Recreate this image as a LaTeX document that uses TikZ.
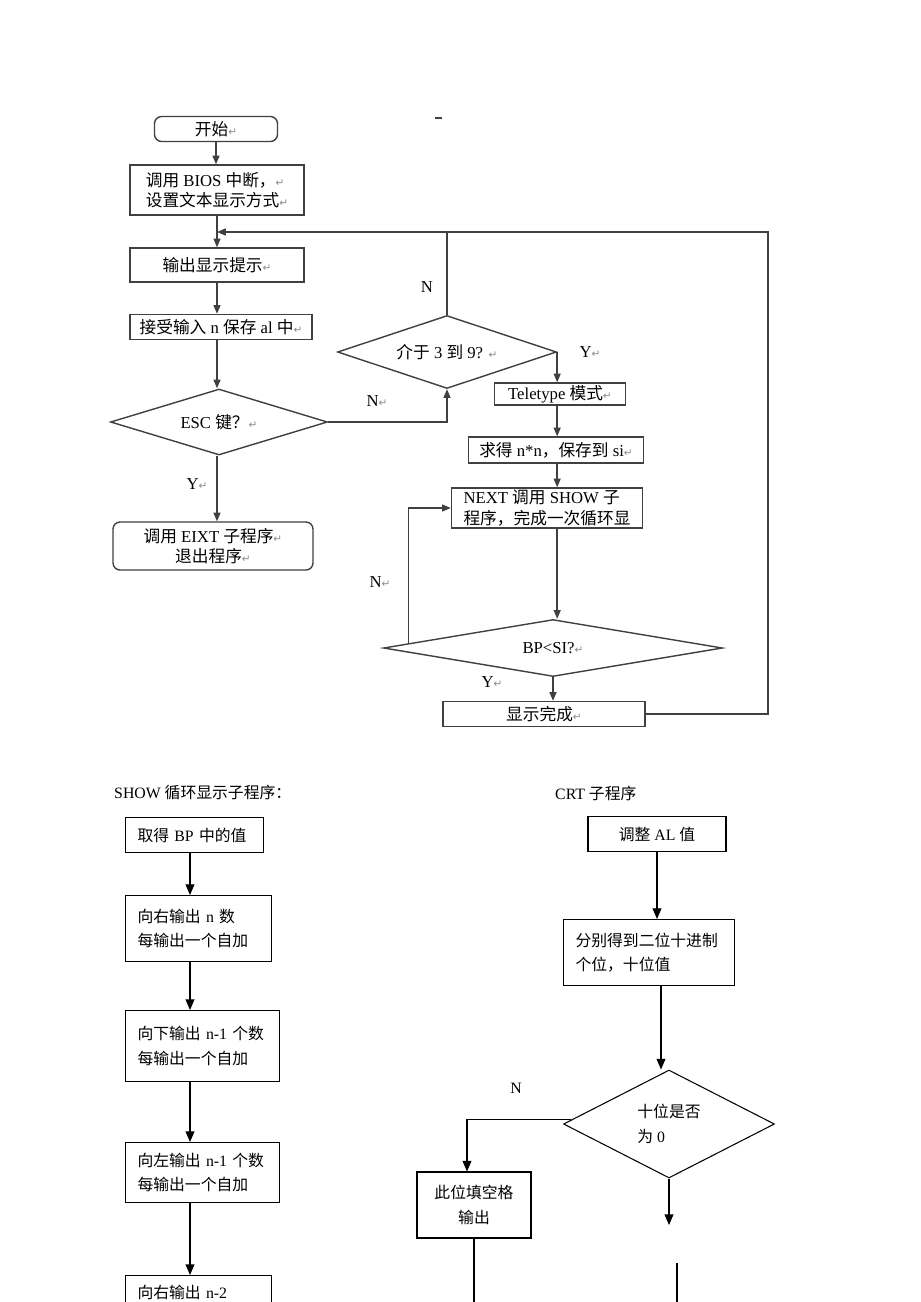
\documentclass[tikz,border=0pt]{standalone}
\usepackage{fontspec}
\setmainfont{Liberation Serif}
\newfontfamily\cjk{Noto Sans CJK SC}
\newfontfamily\symfont{DejaVu Sans}
\usetikzlibrary{shapes.geometric,arrows.meta,calc}

\newcommand{\toptext}{\fontsize{9.5}{11.5}\selectfont}
\newcommand{\lowtext}{\fontsize{9}{14}\selectfont}
\newcommand{\pmark}{{\symfont\color{black!45}\fontsize{6}{6}\selectfont ↵}}

\begin{document}
\begin{tikzpicture}[x=0.02cm, y=-0.02cm,
	flow/.style={draw=black!75, line width=0.8pt},
	arr/.style={flow, -{Triangle[length=5pt,width=4pt]}},
	box/.style={flow, rectangle, inner sep=1pt, align=center, font=\toptext},
	rbox/.style={box, rounded corners=4pt},
	test/.style={flow, diamond, aspect=4, inner sep=0pt, font=\toptext},
	lbl/.style={font=\toptext},
	sline/.style={draw=black, line width=0.6pt},
	sarr/.style={sline, -{Triangle[length=6pt,width=5pt]}},
	sbox/.style={sline, rectangle, inner xsep=0.24cm, align=left, font=\lowtext}]
	\useasboundingbox (0,0) rectangle (920,1302);
	\fill[white] (0,0) rectangle (920,1302);
	\clip (0,0) rectangle (920,1302);

	% Main program
	\node[rbox, minimum width=2.46cm, minimum height=0.5cm] (start) at (216,129) {{\cjk 开始}\pmark};
	\node[box, align=left, minimum width=3.48cm, minimum height=1cm] (bios) at (217,190) {{\cjk 调用} BIOS {\cjk 中断，}\pmark\\{\cjk 设置文本显示方式}\pmark};
	\node[box, minimum width=3.48cm, minimum height=0.68cm] (prompt) at (217,265) {{\cjk 输出显示提示}\pmark};
	\node[box, minimum width=3.64cm, minimum height=0.5cm] (input) at (221,327) {{\cjk 接受输入} n {\cjk 保存} al {\cjk 中}\pmark};
	\node[test, minimum width=4.34cm, minimum height=1.32cm] (esc) at (219,422) {ESC {\cjk 键？}\pmark};
	\node[rbox, minimum width=4cm, minimum height=0.96cm] (exit) at (213,546) {{\cjk 调用} EIXT {\cjk 子程序}\pmark\\{\cjk 退出程序}\pmark};
	\node[test, minimum width=4.38cm, minimum height=1.46cm] (range) at (447,352) {{\cjk 介于} 3 {\cjk 到} 9? \pmark};
	\node[box, minimum width=2.62cm, minimum height=0.44cm] (tele) at (560,394) {Teletype {\cjk 模式}\pmark};
	\node[box, minimum width=3.5cm, minimum height=0.52cm] (square) at (556,450) {{\cjk 求得} n*n{\cjk ，保存到} si\pmark};
	\node[box, align=left, minimum width=3.82cm, minimum height=0.8cm] (next) at (547,508) {NEXT {\cjk 调用} SHOW {\cjk 子}\\{\cjk 程序，完成一次循环显}};
	\node[test, minimum width=6.78cm, minimum height=1.14cm] (bp) at (553,648) {BP<SI?\pmark};
	\node[box, minimum width=4.04cm, minimum height=0.5cm] (done) at (544,714) {{\cjk 显示完成}\pmark};
	\coordinate (loopR) at (768,232);

	% Labels
	\node[lbl] (nTop) at (427,287) {N};
	\node[lbl] (nEsc) at (377,401) {N\pmark};
	\node[lbl] (yRange) at (590,352) {Y\pmark};
	\node[lbl] (yEsc) at (197,484) {Y\pmark};
	\node[lbl] (nBp) at (380,582) {N\pmark};
	\node[lbl] (yBp) at (492,682) {Y\pmark};
	\draw[flow, line width=0.6pt] (435,118) -- (442,118);

	% Connectors
	\draw[arr] (start.south) -- (start.south |- bios.north);
	\draw[arr] (bios.south) -- (bios.south |- prompt.north);
	\draw[arr] (prompt.south) -- (prompt.south |- input.north);
	\draw[arr] (prompt.south |- input.south) -- (prompt.south |- esc.north);
	\draw[arr] (prompt.south |- esc.south) -- (prompt.south |- exit.north);
	\draw[arr] (esc.east) -| (range.south);
	\draw[flow] (range.north) -- (range.north |- loopR);
	\draw[arr] (done.east) -| (loopR) -- (bios.south |- loopR);
	\draw[arr] (range.east) -- (range.east |- tele.north);
	\draw[arr] (range.east |- tele.south) -- (range.east |- square.north);
	\draw[arr] (range.east |- square.south) -- (range.east |- next.north);
	\draw[arr] (range.east |- next.south) -- (range.east |- bp.north);
	\draw[arr] ($(bp.west)!0.15!(bp.north)$) |- (next.west);
	\draw[arr] (bp.south) -- (bp.south |- done.north);

	% SHOW subroutine
	\node[font=\lowtext, anchor=west] (showTitle) at (108,793) {SHOW {\cjk 循环显示子程序：}};
	\node[sbox, anchor=north west, text width=2.28cm, minimum height=0.7cm] (get) at (125,817) {{\cjk 取得} BP {\cjk 中的值}};
	\node[sbox, anchor=north west, text width=2.44cm, minimum height=1.32cm] (outRight) at (125,895) {{\cjk 向右输出} n {\cjk 数}\\{\cjk 每输出一个自加}};
	\node[sbox, anchor=north west, text width=2.6cm, minimum height=1.42cm] (outDown) at (125,1010) {{\cjk 向下输出} n-1 {\cjk 个数}\\{\cjk 每输出一个自加}};
	\node[sbox, anchor=north west, text width=2.6cm, minimum height=1.2cm] (outLeft) at (125,1142) {{\cjk 向左输出} n-1 {\cjk 个数}\\{\cjk 每输出一个自加}};
	\node[sbox, anchor=north west, text width=2.44cm, minimum height=0.68cm] (outRight2) at (125,1275) {{\cjk 向右输出} n-2};
	\coordinate (scol) at (190,0);
	\draw[sarr] (get.south -| scol) -- (outRight.north -| scol);
	\draw[sarr] (outRight.south -| scol) -- (outDown.north -| scol);
	\draw[sarr] (outDown.south -| scol) -- (outLeft.north -| scol);
	\draw[sarr] (outLeft.south -| scol) -- (outRight2.north -| scol);

	% CRT subroutine
	\node[font=\lowtext, anchor=west] (crtTitle) at (549,793) {CRT {\cjk 子程序}};
	\node[sbox, align=center, minimum width=2.76cm, minimum height=0.7cm] (adjust) at (657,834) {{\cjk 调整} AL {\cjk 值}};
	\node[sbox, anchor=north west, text width=2.94cm, minimum height=1.32cm] (split) at (563,919) {{\cjk 分别得到二位十进制}\\{\cjk 个位，十位值}};
	\node[sline, diamond, inner sep=0pt, minimum width=4.22cm, minimum height=2.16cm, font=\lowtext, align=left] (zero) at (669,1124) {{\cjk 十位是否}\\{\cjk 为}\ 0};
	\node[sbox, align=center, minimum width=2.28cm, minimum height=1.32cm] (fill) at (474,1205) {{\cjk 此位填空格}\\{\cjk 输出}};
	\node[font=\lowtext] (nZero) at (516,1088) {N};
	\coordinate (zcol) at (661,0);
	\coordinate (zeroEnd) at (669,1225);
	\coordinate (contTop) at (677,1263);
	\coordinate (contBot) at (677,1302);
	\coordinate (fillBot) at (474,1302);
	\draw[sarr] (adjust.south) -- (adjust.south |- split.north);
	\draw[sarr] (split.south -| zcol) -- (zero.north -| zcol);
	\draw[sarr] (zero.south) -- (zeroEnd);
	\draw[sarr] ($(zero.west)!0.08!(zero.north)$) -| ([xshift=-0.14cm]fill.north);
	\draw[sline] (fill.south) -- (fillBot);
	\draw[sline] (contTop) -- (contBot);
\end{tikzpicture}
\end{document}
